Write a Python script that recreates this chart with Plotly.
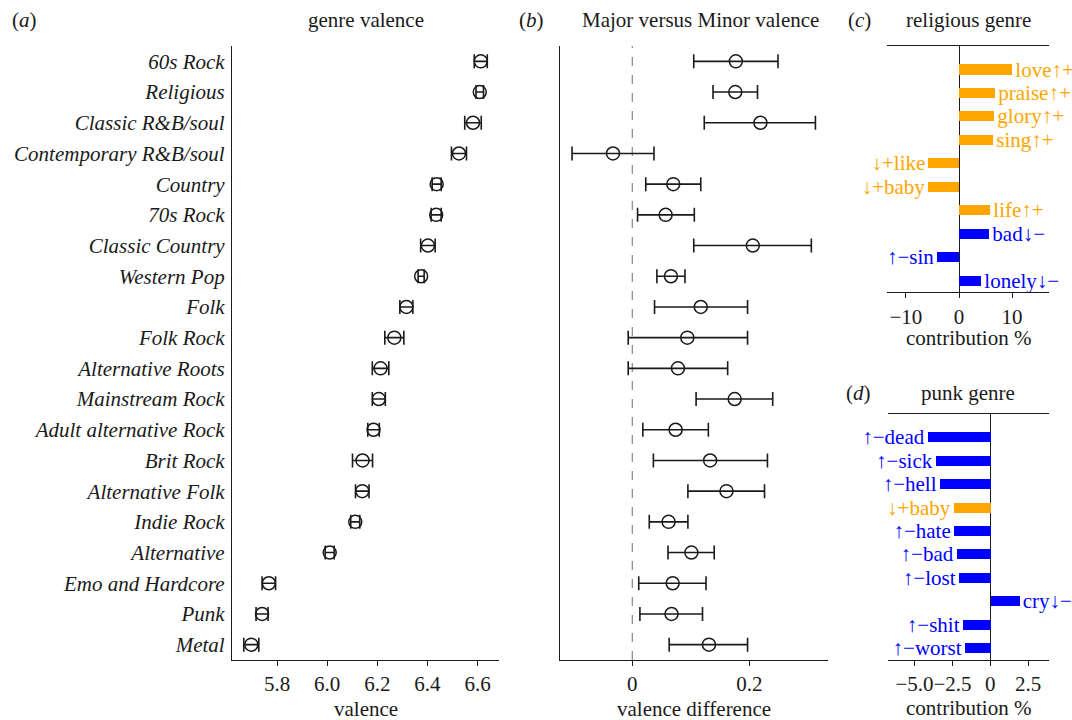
import plotly.graph_objects as go

# ---------------- data ----------------
genres = ["60s Rock", "Religious", "Classic R&B/soul", "Contemporary R&B/soul", "Country",
          "70s Rock", "Classic Country", "Western Pop", "Folk", "Folk Rock",
          "Alternative Roots", "Mainstream Rock", "Adult alternative Rock", "Brit Rock",
          "Alternative Folk", "Indie Rock", "Alternative", "Emo and Hardcore", "Punk", "Metal"]
valence = [6.613, 6.609, 6.582, 6.526, 6.437, 6.435, 6.402, 6.375, 6.316, 6.268,
           6.213, 6.206, 6.185, 6.141, 6.140, 6.112, 6.010, 5.767, 5.740, 5.697]
valence_err = [0.026, 0.015, 0.033, 0.030, 0.018, 0.020, 0.029, 0.012, 0.026, 0.038,
               0.033, 0.026, 0.023, 0.040, 0.027, 0.018, 0.018, 0.027, 0.024, 0.030]
diff = [0.177, 0.176, 0.219, -0.033, 0.070, 0.057, 0.206, 0.066, 0.117, 0.094,
        0.078, 0.175, 0.074, 0.133, 0.161, 0.062, 0.101, 0.069, 0.067, 0.131]
diff_lo = [0.105, 0.138, 0.123, -0.103, 0.023, 0.009, 0.105, 0.042, 0.038, -0.007,
           -0.007, 0.109, 0.018, 0.036, 0.095, 0.029, 0.061, 0.011, 0.013, 0.063]
diff_hi = [0.249, 0.214, 0.313, 0.037, 0.117, 0.106, 0.306, 0.090, 0.197, 0.197,
           0.163, 0.240, 0.130, 0.231, 0.226, 0.095, 0.140, 0.126, 0.120, 0.197]

rel_words = ["love↑+", "praise↑+", "glory↑+", "sing↑+", "↓+like", "↓+baby",
             "life↑+", "bad↓−", "↑−sin", "lonely↓−"]
rel_contrib = [10.1, 6.8, 6.67, 6.48, -5.79, -5.79, 5.91, 5.72, -4.03, 4.2]
rel_positive = [True, True, True, True, True, True, True, False, False, False]

punk_words = ["↑−dead", "↑−sick", "↑−hell", "↓+baby", "↑−hate", "↑−bad", "↑−lost",
              "cry↓−", "↑−shit", "↑−worst"]
punk_contrib = [-4.13, -3.58, -3.32, -2.44, -2.44, -2.20, -2.07, 1.96, -1.80, -1.67]
punk_positive = [False, False, False, True, False, False, False, False, False, False]

# ---------------- style ----------------
W, H = 1072, 720
FONT = "Liberation Serif, Times New Roman, serif"
FS = 21
INK = "#1a1a1a"
ORANGE = "#FFA500"
BLUE = "#0000FF"


def fx(px):
    return px / W


def fy(py):
    return 1 - py / H


idx = list(range(len(genres)))
fig = go.Figure()

# panel a
fig.add_trace(go.Scatter(
    x=valence, y=idx, mode="markers", xaxis="x", yaxis="y",
    marker=dict(symbol="circle-open", size=13, color=INK, line=dict(width=1.5, color=INK)),
    error_x=dict(type="data", array=valence_err, color=INK, thickness=1.6, width=7),
    showlegend=False))

# panel b
fig.add_trace(go.Scatter(
    x=diff, y=idx, mode="markers", xaxis="x2", yaxis="y2",
    marker=dict(symbol="circle-open", size=13, color=INK, line=dict(width=1.5, color=INK)),
    error_x=dict(type="data", symmetric=False,
                 array=[h - d for h, d in zip(diff_hi, diff)],
                 arrayminus=[d - l for d, l in zip(diff, diff_lo)],
                 color=INK, thickness=1.6, width=7),
    showlegend=False))

# panel c
rel_colors = [ORANGE if p else BLUE for p in rel_positive]
fig.add_trace(go.Bar(
    x=rel_contrib, y=list(range(len(rel_words))), orientation="h", xaxis="x3", yaxis="y3",
    width=0.43, marker=dict(color=rel_colors, line=dict(width=0)),
    text=rel_words, textposition="outside", constraintext="none", cliponaxis=False,
    textfont=dict(family=FONT, size=FS, color=rel_colors), showlegend=False))

# panel d
punk_colors = [ORANGE if p else BLUE for p in punk_positive]
fig.add_trace(go.Bar(
    x=punk_contrib, y=list(range(len(punk_words))), orientation="h", xaxis="x4", yaxis="y4",
    width=0.43, marker=dict(color=punk_colors, line=dict(width=0)),
    text=punk_words, textposition="outside", constraintext="none", cliponaxis=False,
    textfont=dict(family=FONT, size=FS, color=punk_colors), showlegend=False))

axis_common = dict(showgrid=False, zeroline=False, linecolor=INK, linewidth=1.3,
                   tickfont=dict(family=FONT, size=FS, color=INK), tickangle=0,
                   ticks="outside", ticklen=5, tickwidth=1.3, tickcolor=INK)

fig.update_layout(
    width=W, height=H, margin=dict(l=0, r=0, t=0, b=0),
    paper_bgcolor="white", plot_bgcolor="white",
    font=dict(family=FONT, size=FS, color=INK),
    bargap=0,
    xaxis=dict(axis_common, domain=[fx(232), fx(499.3)], range=[5.62, 6.687],
               showline=True, tickvals=[5.8, 6.0, 6.2, 6.4, 6.6],
               ticktext=["5.8", "6.0", "6.2", "6.4", "6.6"], anchor="y"),
    yaxis=dict(axis_common, domain=[fy(660), fy(46)], range=[19.5, -0.5], showline=True,
               ticks="", tickvals=idx, ticktext=["<i>%s</i>" % g for g in genres],
               ticklabelstandoff=2, anchor="x"),
    xaxis2=dict(axis_common, domain=[fx(560), fx(828)], range=[-0.1236, 0.3345],
                showline=True, tickvals=[0, 0.2], ticktext=["0", "0.2"], anchor="y2"),
    yaxis2=dict(axis_common, domain=[fy(660), fy(46)], range=[19.5, -0.5], showline=True,
                ticks="", showticklabels=False, anchor="x2"),
    xaxis3=dict(axis_common, domain=[fx(887.3), fx(1049.3)], range=[-13.5, 17.0],
                showline=True, mirror=True, zeroline=True, zerolinecolor=INK, zerolinewidth=1.3,
                tickvals=[-10, 0, 10], ticktext=["−10", "0", "10"], anchor="y3"),
    yaxis3=dict(axis_common, domain=[fy(292.3), fy(46)], range=[9.5, -1], showline=False,
                ticks="", showticklabels=False, anchor="x3"),
    xaxis4=dict(axis_common, domain=[fx(887.7), fx(1049)], range=[-6.77, 3.87],
                showline=True, mirror=True, zeroline=True, zerolinecolor=INK, zerolinewidth=1.3,
                tickvals=[-5, -2.5, 0, 2.5], ticktext=["−5.0", "−2.5", "0", "2.5"], anchor="y4"),
    yaxis4=dict(axis_common, domain=[fy(660), fy(414.3)], range=[9.5, -1], showline=False,
                ticks="", showticklabels=False, anchor="x4"),
)

# dashed zero reference in panel b
fig.add_shape(type="line", xref="x2", yref="y2 domain", x0=0, x1=0, y0=0, y1=1,
              line=dict(color="#888888", width=1.2, dash="dash"), layer="below")


def note(text, px, py, size=FS, xanchor="center"):
    fig.add_annotation(text=text, x=fx(px), y=fy(py), xref="paper", yref="paper",
                       showarrow=False, xanchor=xanchor, yanchor="middle",
                       font=dict(family=FONT, size=size, color=INK))


# panel letters and titles
note("(<i>a</i>)", 24, 20)
note("genre valence", 365.5, 20)
note("(<i>b</i>)", 531, 20)
note("Major versus Minor valence", 700, 20)
note("(<i>c</i>)", 859, 20)
note("religious genre", 968, 20)
note("(<i>d</i>)", 858, 393)
note("punk genre", 968, 393)

# axis titles
note("valence", 365.5, 709)
note("valence difference", 694, 709)
note("contribution %", 968, 338)
note("contribution %", 968, 708)

fig.write_html("out.html", config={"displayModeBar": False},
               post_script="document.body.style.margin='0';document.body.style.padding='0';")
